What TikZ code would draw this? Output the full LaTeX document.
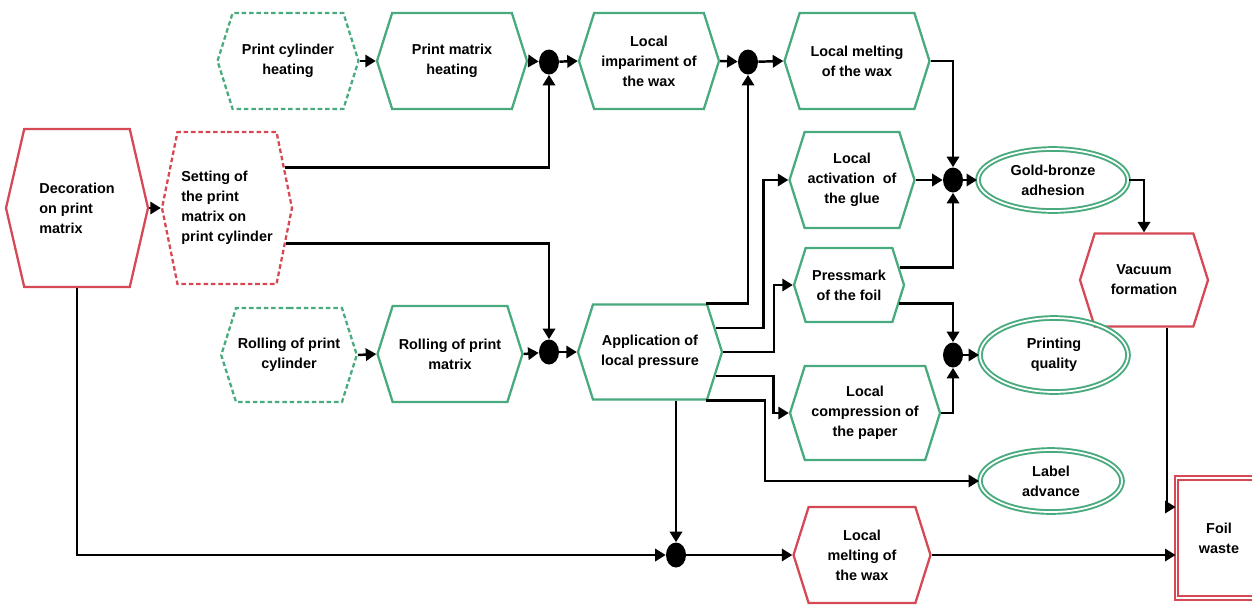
\documentclass[tikz,border=0pt]{standalone}
\usepackage{fontspec}
\newfontfamily\lab{Liberation Sans}
\usetikzlibrary{shapes.symbols,shapes.geometric,arrows.meta}
\definecolor{gr}{RGB}{72,170,125}
\definecolor{rd}{RGB}{214,72,84}
\newcommand{\labfont}{\lab\bfseries\fontsize{8.2}{11.4}\selectfont}

\begin{document}
\begin{tikzpicture}[x=0.2mm, y=-0.2mm, >={Triangle[length=6pt,width=7pt]},
  box/.style={shape=signal, signal to=east and west, signal pointer angle=145, draw=gr, line width=1.3pt, fill=white, align=center, inner sep=1pt, minimum height=1.92cm, font=\labfont},
  loose/.style={dash pattern=on 2.6pt off 1.6pt},
  fault/.style={draw=rd},
  goal/.style={ellipse, draw=gr, double=white, double distance=1pt, line width=1.1pt, align=center, inner sep=0pt, font=\labfont},
  jn/.style={ellipse, fill=black, inner sep=0pt, minimum width=0.4cm, minimum height=0.5cm},
  link/.style={->, line width=1.4pt}]
  \useasboundingbox (0,0) rectangle (1252,605);
  \clip (0,0) rectangle (1252,605);
  % Nodes
  \node[box, loose, minimum width=2.82cm] (pch) at (288,61) {Print cylinder\\heating};
  \node[box, minimum width=3cm] (pmh) at (452,61) {Print matrix\\heating};
  \node[jn] (j1) at (549,62) {};
  \node[box, minimum width=2.8cm] (liw) at (649,61) {Local\\impariment of\\the wax};
  \node[jn] (j2) at (748,62) {};
  \node[box, minimum width=2.9cm] (lmw) at (857,61) {Local melting\\of the wax};
  \node[box, fault, signal pointer angle=154, minimum width=2.84cm, minimum height=3.16cm, align=left] (dec) at (77,208) {Decoration\\on print\\matrix};
  \node[box, fault, loose, signal pointer angle=157, minimum width=2.6cm, minimum height=3.04cm, align=left] (set) at (227,208) {Setting of\\the print\\matrix on\\print cylinder};
  \node[box, minimum width=2.5cm] (lag) at (852,180) {Local\\activation~ of\\the glue};
  \node[jn] (j3) at (953,180) {};
  \node[goal, minimum width=3cm, minimum height=1.24cm] (gba) at (1053,180) {Gold-bronze\\adhesion};
  \node[box, fault, minimum width=2.56cm, minimum height=1.86cm] (vac) at (1144,280) {Vacuum\\formation};
  \node[box, minimum width=2.2cm, minimum height=1.48cm] (pmf) at (849,285) {Pressmark\\of the foil};
  \node[box, loose, minimum width=2.68cm, minimum height=1.88cm] (rpc) at (289,355) {Rolling of print\\cylinder};
  \node[box, minimum width=2.9cm] (rpm) at (450,354) {Rolling of print\\matrix};
  \node[jn] (j4) at (549,352) {};
  \node[box, minimum width=2.88cm, minimum height=1.9cm] (alp) at (650,352) {Application of\\local pressure};
  \node[jn] (j5) at (953,355) {};
  \node[goal, minimum width=2.96cm, minimum height=1.48cm] (pq) at (1054,355) {Printing\\quality};
  \node[box, minimum width=3cm, minimum height=1.88cm] (lcp) at (865,413) {Local\\compression of\\the paper};
  \node[goal, minimum width=2.84cm, minimum height=1.24cm] (la) at (1051,481) {Label\\advance};
  \node[jn] (j6) at (676,555) {};
  \node[box, fault, minimum width=2.74cm] (lmw2) at (862,555) {Local\\melting of\\the wax};
  \node[draw=rd, double=white, double distance=1pt, line width=1.1pt, minimum width=1.7cm, minimum height=2.4cm, align=center, font=\labfont] (fw) at (1219,538) {Foil\\waste};
  % Edges
  \draw[link] (pch.east) -- (pmh.west);
  \draw[link] (pmh.east) -- (j1);
  \draw[link] (j1) -- (liw.west);
  \draw[link] (liw.east) -- (j2);
  \draw[link] (j2) -- (lmw.west);
  \draw[link] (dec.east) -- (set.west);
  \draw[link] (set.35) -| (j1);
  \draw[link] (set.-31) -| (j4);
  \draw[link] (dec.south) |- (j6);
  \draw[link] (rpc.east) -- (rpm.west);
  \draw[link] (rpm.east) -- (j4);
  \draw[link] (j4) -- (alp.west);
  \draw[link] (alp.41) -| (j2);
  \draw[link] (alp.20) -- ++(48,0) |- (lag.west);
  \draw[link] (alp.east) -- ++(51,0) |- (pmf.west);
  \draw[link] (alp.-20) -- ++(58,0) |- (lcp.west);
  \draw[link] (alp.-41) -- ++(59,0) |- (la.west);
  \draw[link] (alp.south -| j6) -- (j6);
  \draw[link] (lmw.east) -| (j3);
  \draw[link] (lag.east) -- (j3);
  \draw[link] (pmf.19) -| (j3);
  \draw[link] (j3) -- (gba);
  \draw[link] (pmf.-20) -| (j5);
  \draw[link] (lcp.east) -| (j5);
  \draw[link] (j5) -- (pq);
  \draw[link] (gba.east) -| (vac.north);
  \draw[link] ([xshift=0.46cm]vac.south) |- ([yshift=0.62cm]fw.west);
  \draw[link] (j6) -- (lmw2.west);
  \draw[link] (lmw2.east) -- (lmw2.east -| fw.west);
\end{tikzpicture}
\end{document}
